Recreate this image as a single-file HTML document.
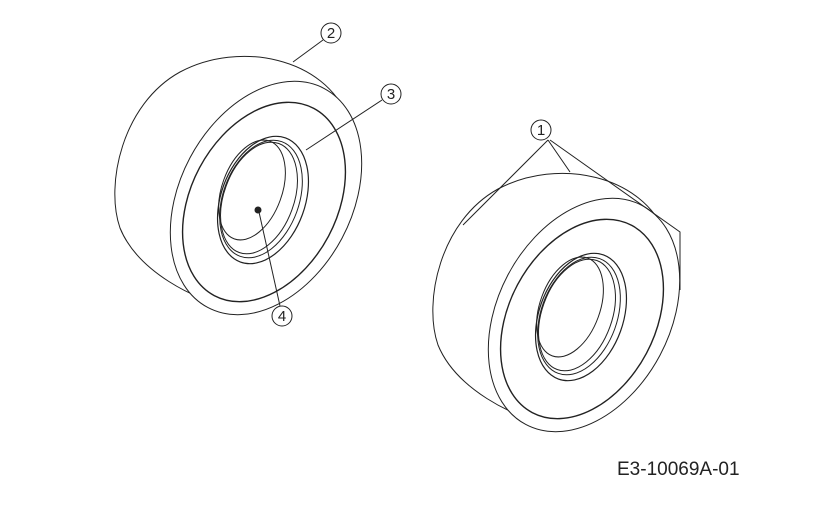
<!DOCTYPE html>
<html><head><style>
html,body{margin:0;padding:0;background:#fff;}
svg{display:block}
</style></head><body>
<svg width="836" height="510" viewBox="0 0 836 510" xmlns="http://www.w3.org/2000/svg" font-family="Liberation Sans, sans-serif">
<defs>
<g id="tire" fill="none" stroke="#222" stroke-width="1">
  <path d="M348,118 C325,58 240,40 180,72 C122,104 105,185 120,228 C138,272 195,300 232,308"/>
  <ellipse cx="266" cy="198" rx="86" ry="124" transform="rotate(28 266 198)" fill="#fff"/>
  <ellipse cx="264" cy="202" rx="73" ry="106" transform="rotate(28 264 202)" stroke-width="1.4"/>
  <ellipse cx="263" cy="200" rx="42" ry="66" transform="rotate(20 263 200)" stroke-width="1.2"/>
  <ellipse cx="261" cy="199" rx="38" ry="61" transform="rotate(20 261 199)"/>
  <ellipse cx="259" cy="198" rx="35" ry="58" transform="rotate(20 259 198)"/>
  <ellipse cx="252" cy="190" rx="30" ry="52" transform="rotate(20 252 190)"/>
</g>
</defs>
<use href="#tire"/>
<use href="#tire" transform="translate(318,117)"/>
<circle cx="258" cy="210" r="3.5" fill="#222"/>
<g fill="none" stroke="#222" stroke-width="1">
  <circle cx="331" cy="33" r="10"/>
  <line x1="323" y1="40" x2="293" y2="62"/>
  <circle cx="391" cy="94" r="10"/>
  <line x1="382" y1="100" x2="306" y2="150"/>
  <circle cx="282" cy="316" r="10"/>
  <line x1="280" y1="306" x2="259" y2="212"/>
  <circle cx="541" cy="130" r="10"/>
  <line x1="548" y1="140" x2="463" y2="225"/>
  <line x1="548" y1="140" x2="570" y2="172"/>
  <polyline points="550,140 680,232 680,290"/>
</g>
<g font-size="15" text-anchor="middle" fill="#222">
  <text x="331" y="38">2</text>
  <text x="391" y="99">3</text>
  <text x="282" y="321">4</text>
  <text x="541" y="135">1</text>
</g>
<text x="617" y="475" font-size="19" fill="#222">E3-10069A-01</text>
</svg>
</body></html>
